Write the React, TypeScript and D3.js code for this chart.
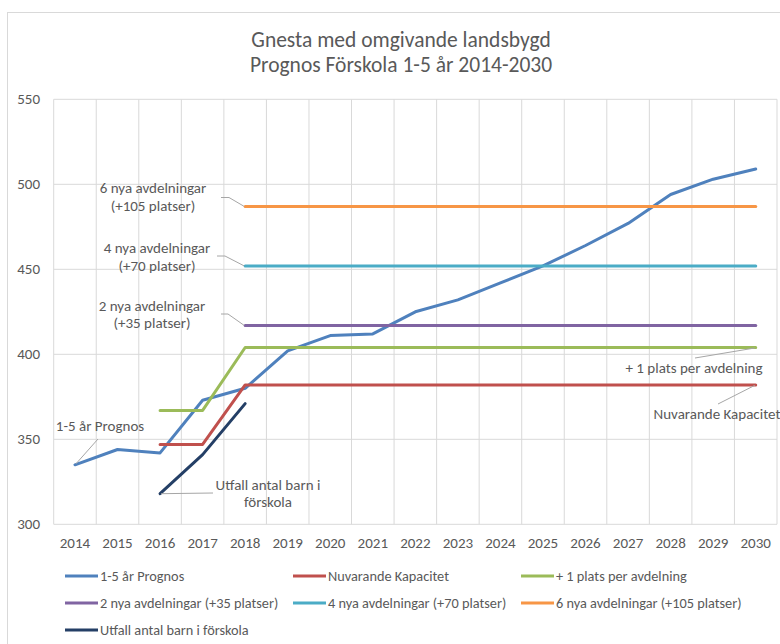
import React from "react";
import * as d3 from "d3";

const years = ["2014","2015","2016","2017","2018","2019","2020","2021","2022","2023","2024","2025","2026","2027","2028","2029","2030"];
const prognos = [335, 344, 342, 373, 380, 402, 411, 412, 425, 432, 442, 452, 464, 477, 494, 503, 509];
const kapacitet = [null, null, 347, 347, 382, 382, 382, 382, 382, 382, 382, 382, 382, 382, 382, 382, 382];
const plusEn = [null, null, 367, 367, 404, 404, 404, 404, 404, 404, 404, 404, 404, 404, 404, 404, 404];
const nya2 = [null, null, null, null, 417, 417, 417, 417, 417, 417, 417, 417, 417, 417, 417, 417, 417];
const nya4 = [null, null, null, null, 452, 452, 452, 452, 452, 452, 452, 452, 452, 452, 452, 452, 452];
const nya6 = [null, null, null, null, 487, 487, 487, 487, 487, 487, 487, 487, 487, 487, 487, 487, 487];
const utfall = [null, null, 318, 341, 371, null, null, null, null, null, null, null, null, null, null, null, null];
const yTicks = [300, 350, 400, 450, 500, 550];
const seriesNames = [
  "1-5 år Prognos",
  "Nuvarande Kapacitet",
  "+ 1 plats per avdelning",
  "2 nya avdelningar (+35 platser)",
  "4 nya avdelningar (+70 platser)",
  "6 nya avdelningar (+105 platser)",
  "Utfall antal barn i förskola",
];
const colors = ["#4F81BD", "#C0504D", "#9BBB59", "#8064A2", "#4BACC6", "#F79646", "#243F66"];
const seriesData = [prognos, kapacitet, plusEn, nya2, nya4, nya6, utfall];
const titleLines = ["Gnesta med omgivande landsbygd", "Prognos Förskola 1-5 år 2014-2030"];

const FONT = "Carlito, Calibri, Lato, 'Open Sans', sans-serif";
const TXT = "#595959";

export default function App() {
  const x = d3.scaleBand<string>().domain(years).range([53.7, 777]).padding(0);
  const y = d3.scaleLinear().domain([300, 550]).range([524.3, 99.3]);
  const cx = (yr: string) => (x(yr) as number) + x.bandwidth() / 2;

  const line = d3
    .line<number | null>()
    .defined((d) => d != null)
    .x((_, i) => cx(years[i]))
    .y((d) => y(d as number));

  const boundaries = years.map((yr) => x(yr) as number).concat([x.range()[1]]);

  const legendCols = [65, 293, 521];
  const legendRows = [576, 603, 630];

  const firstIdx = (arr: (number | null)[]) => arr.findIndex((v) => v != null);
  const lastIdx = (arr: (number | null)[]) => {
    for (let i = arr.length - 1; i >= 0; i--) if (arr[i] != null) return i;
    return -1;
  };
  const pt = (arr: (number | null)[], i: number) => [cx(years[i]), y(arr[i] as number)];

  const p6 = pt(nya6, firstIdx(nya6));
  const p4 = pt(nya4, firstIdx(nya4));
  const p2 = pt(nya2, firstIdx(nya2));
  const pProg = pt(prognos, firstIdx(prognos));
  const pUtf = pt(utfall, firstIdx(utfall));
  const pPlus = pt(plusEn, lastIdx(plusEn));
  const pKap = pt(kapacitet, lastIdx(kapacitet));

  const leader = "#A6A6A6";

  return (
    <svg
      width={780}
      height={644}
      style={{ position: "absolute", left: 0, top: 0, background: "#fff" }}
      fontFamily={FONT}
    >
      <rect x={7.5} y={12.5} width={820} height={700} fill="#fff" stroke="#D9D9D9" strokeWidth={1} />
      {/* title */}
      <text x={401} y={47} textAnchor="middle" fontSize={21.5} fill={TXT}>{titleLines[0]}</text>
      <text x={401} y={72} textAnchor="middle" fontSize={21.5} fill={TXT}>{titleLines[1]}</text>

      {/* gridlines */}
      {yTicks.map((t) => (
        <line key={"h" + t} x1={53.7} x2={777} y1={y(t)} y2={y(t)} stroke="#D9D9D9" strokeWidth={1} />
      ))}
      {boundaries.map((b, i) => (
        <line key={"v" + i} x1={b} x2={b} y1={y(550)} y2={y(300)} stroke="#D9D9D9" strokeWidth={1} />
      ))}

      {/* y labels */}
      {yTicks.map((t) => (
        <text key={"yl" + t} x={40} y={y(t) + 5} textAnchor="end" fontSize={15} fill={TXT}>{t}</text>
      ))}
      {/* x labels */}
      {years.map((yr) => (
        <text key={"xl" + yr} x={cx(yr)} y={548} textAnchor="middle" fontSize={15} fill={TXT}>{yr}</text>
      ))}

      {/* series */}
      {seriesData.map((s, i) => (
        <path
          key={"s" + i}
          d={line(s) || ""}
          fill="none"
          stroke={colors[i]}
          strokeWidth={3}
          strokeLinejoin="round"
          strokeLinecap="round"
        />
      ))}

      {/* data labels with leader lines */}
      <polyline points={`221,197.5 229,197.5 ${p6[0] - 1},${p6[1]}`} fill="none" stroke={leader} strokeWidth={1} />
      <text x={153} y={193} textAnchor="middle" fontSize={15} fill={TXT}>6 nya avdelningar</text>
      <text x={153} y={211} textAnchor="middle" fontSize={15} fill={TXT}>(+105 platser)</text>

      <polyline points={`217,256 225,256 ${p4[0] - 1},${p4[1]}`} fill="none" stroke={leader} strokeWidth={1} />
      <text x={157} y={253} textAnchor="middle" fontSize={15} fill={TXT}>4 nya avdelningar</text>
      <text x={157} y={271} textAnchor="middle" fontSize={15} fill={TXT}>(+70 platser)</text>

      <polyline points={`221,314 228,314 ${p2[0] - 1},${p2[1]}`} fill="none" stroke={leader} strokeWidth={1} />
      <text x={152} y={311} textAnchor="middle" fontSize={15} fill={TXT}>2 nya avdelningar</text>
      <text x={152} y={328} textAnchor="middle" fontSize={15} fill={TXT}>(+35 platser)</text>

      <polyline points={`${pProg[0] + 1},${pProg[1] - 1} 98,439`} fill="none" stroke={leader} strokeWidth={1} />
      <text x={100} y={431} textAnchor="middle" fontSize={15} fill={TXT}>1-5 år Prognos</text>

      <polyline points={`${pUtf[0] + 1},${pUtf[1]} 213,493`} fill="none" stroke={leader} strokeWidth={1} />
      <text x={268} y={490} textAnchor="middle" fontSize={15} fill={TXT}>Utfall antal barn i</text>
      <text x={268} y={507} textAnchor="middle" fontSize={15} fill={TXT}>förskola</text>

      <polyline points={`${pPlus[0] - 1},${pPlus[1] + 0.5} 695,358`} fill="none" stroke={leader} strokeWidth={1} />
      <text x={694} y={373} textAnchor="middle" fontSize={15} fill={TXT}>+ 1 plats per avdelning</text>

      <polyline points={`${pKap[0] - 1},${pKap[1] + 0.5} 718,404`} fill="none" stroke={leader} strokeWidth={1} />
      <text x={717} y={419} textAnchor="middle" fontSize={15} fill={TXT}>Nuvarande Kapacitet</text>

      {/* legend */}
      {seriesNames.map((name, i) => {
        const col = i < 6 ? i % 3 : 0;
        const row = Math.floor(i / 3);
        const lx = legendCols[col];
        const ly = legendRows[row];
        return (
          <g key={"lg" + i}>
            <line x1={lx} x2={lx + 33} y1={ly} y2={ly} stroke={colors[i]} strokeWidth={3} />
            <text x={lx + 35} y={ly + 5} fontSize={14.3} fill={TXT}>{name}</text>
          </g>
        );
      })}
    </svg>
  );
}
